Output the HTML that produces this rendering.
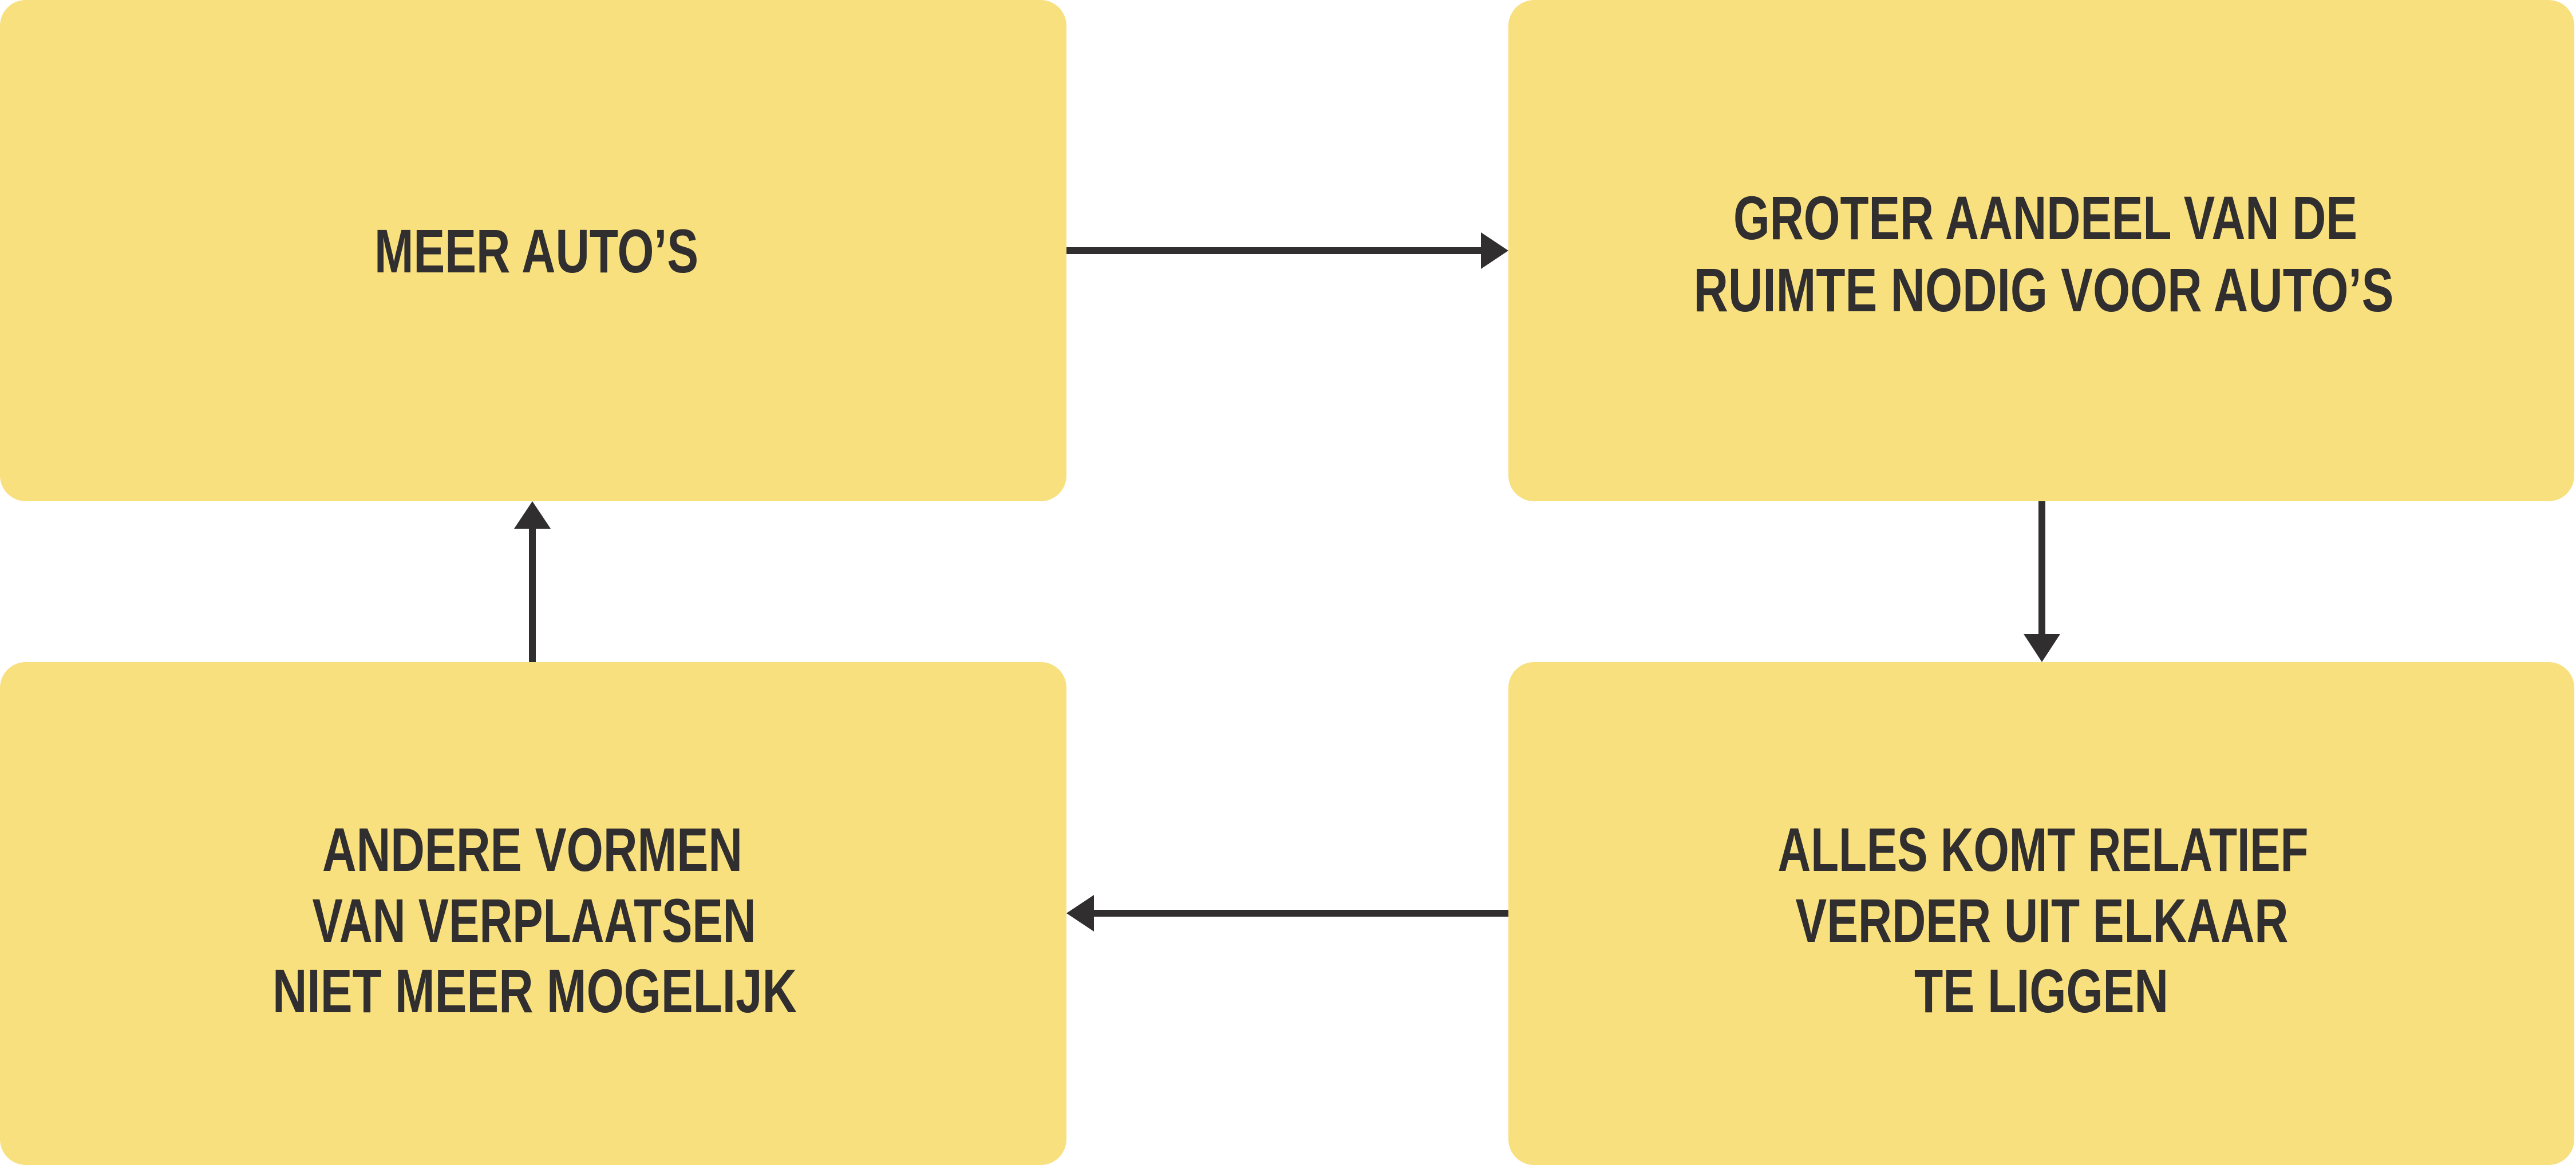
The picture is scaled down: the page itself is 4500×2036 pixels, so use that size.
<!DOCTYPE html>
<html><head><meta charset="utf-8"><style>html,body{margin:0;padding:0;background:#fff}svg{display:block}</style></head>
<body>
<svg width="4500" height="2036" viewBox="0 0 4500 2036" xmlns="http://www.w3.org/2000/svg">
<g fill="#F8E07F">
<rect x="0" y="0" width="1863" height="876" rx="45"/>
<rect x="2635" y="0" width="1862" height="876" rx="45"/>
<rect x="0" y="1157" width="1863" height="879" rx="45"/>
<rect x="2635" y="1157" width="1862" height="879" rx="45"/>
</g>
<g stroke="#302E2F" stroke-width="12" fill="none">
<line x1="1863" y1="438" x2="2590" y2="438"/>
<line x1="3567" y1="876" x2="3567" y2="1110"/>
<line x1="2635" y1="1596" x2="1908" y2="1596"/>
<line x1="930" y1="1157" x2="930" y2="922"/>
</g>
<g fill="#302E2F">
<path d="M2587,406 L2635,438 L2587,470 Z"/>
<path d="M3535,1108 L3567,1157 L3599,1108 Z"/>
<path d="M1911,1564 L1863,1596 L1911,1628 Z"/>
<path d="M898,924 L930,876 L962,924 Z"/>
</g>
<g font-family="Liberation Sans, sans-serif" font-weight="bold" font-size="108" fill="#302E2F" text-anchor="middle">
<text x="937" y="476" textLength="566" lengthAdjust="spacingAndGlyphs">MEER AUTO’S</text>
<text x="3573" y="418" textLength="1090" lengthAdjust="spacingAndGlyphs">GROTER AANDEEL VAN DE</text>
<text x="3570" y="544" textLength="1223" lengthAdjust="spacingAndGlyphs">RUIMTE NODIG VOOR AUTO’S</text>
<text x="930" y="1522" textLength="734" lengthAdjust="spacingAndGlyphs">ANDERE VORMEN</text>
<text x="933" y="1646" textLength="775" lengthAdjust="spacingAndGlyphs">VAN VERPLAATSEN</text>
<text x="934" y="1769" textLength="916" lengthAdjust="spacingAndGlyphs">NIET MEER MOGELIJK</text>
<text x="3569" y="1522" textLength="927" lengthAdjust="spacingAndGlyphs">ALLES KOMT RELATIEF</text>
<text x="3567" y="1646" textLength="861" lengthAdjust="spacingAndGlyphs">VERDER UIT ELKAAR</text>
<text x="3566" y="1769" textLength="444" lengthAdjust="spacingAndGlyphs">TE LIGGEN</text>
</g>
</svg>
</body></html>
